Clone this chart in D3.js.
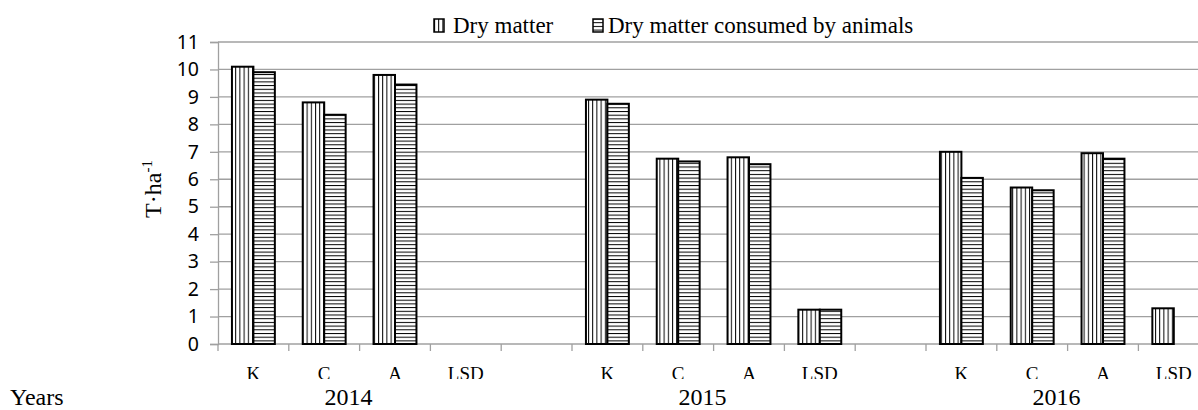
<!DOCTYPE html>
<html>
<head>
<meta charset="utf-8">
<script src="https://cdn.jsdelivr.net/npm/d3@7"></script>
<style>
  body { margin: 0; background: #fff; }
  svg { display: block; }
</style>
</head>
<body>
<div id="chart"></div>
<script>
// data (T ha-1)
const years = ["2014", "2015", "2016"];
const treatments = ["K", "C", "A", "LSD"];
const seriesNames = ["Dry matter", "Dry matter consumed by animals"];
const dryMatter = [
    [10.1, 8.8, 9.8, null],
    [8.9, 6.75, 6.8, 1.25],
    [7.0, 5.7, 6.95, 1.3]
];
const consumed = [
    [9.9, 8.35, 9.45, null],
    [8.75, 6.65, 6.55, 1.25],
    [6.05, 5.6, 6.75, null]
];
const yTicks = d3.range(0, 12);

const W = 1198, H = 410;
const margin = {top: 42, left: 218, bottom: 66};
const step = 70.8;

// slots: 4 treatments per year, one empty slot between years
const slots = [];
years.forEach((yr, i) => {
    treatments.forEach(t => slots.push(yr + "-" + t));
    if (i < years.length - 1) slots.push("gap" + i);
});

const x = d3.scaleBand().domain(slots).range([margin.left, margin.left + slots.length * step]).padding(0);
const xs = d3.scaleBand().domain(seriesNames).range([0, x.bandwidth()]).paddingInner(0).paddingOuter(0.65);
const y = d3.scaleLinear().domain([0, 11]).range([H - margin.bottom, margin.top]);

const rows = [];
years.forEach((yr, i) => {
    treatments.forEach((t, j) => {
        [dryMatter[i][j], consumed[i][j]].forEach((v, k) => {
            if (v != null) rows.push({slot: yr + "-" + t, series: seriesNames[k], value: v, k: k});
        });
    });
});

const svg = d3.select("#chart").append("svg").attr("width", W).attr("height", H);

const defs = svg.append("defs");
defs.append("pattern").attr("id", "pv").attr("patternUnits", "userSpaceOnUse")
    .attr("width", 4.2).attr("height", 4)
    .call(p => p.append("rect").attr("width", 4.2).attr("height", 4).attr("fill", "#fff"))
    .call(p => p.append("line").attr("x1", 0.5).attr("x2", 0.5).attr("y1", 0).attr("y2", 4)
        .attr("stroke", "#000").attr("stroke-width", 1));
defs.append("pattern").attr("id", "ph").attr("patternUnits", "userSpaceOnUse")
    .attr("width", 4).attr("height", 3.7)
    .call(p => p.append("rect").attr("width", 4).attr("height", 3.7).attr("fill", "#fff"))
    .call(p => p.append("line").attr("x1", 0).attr("x2", 4).attr("y1", 0.5).attr("y2", 0.5)
        .attr("stroke", "#000").attr("stroke-width", 1));
const fills = ["url(#pv)", "url(#ph)"];

defs.append("clipPath").attr("id", "catClip")
    .append("rect").attr("x", 0).attr("y", 0).attr("width", W).attr("height", 379);

// gridlines
svg.append("g")
    .selectAll("line")
    .data(yTicks.slice(1))
    .join("line")
    .attr("x1", margin.left).attr("x2", x.range()[1])
    .attr("y1", d => y(d)).attr("y2", d => y(d))
    .attr("stroke", "#a0a0a0").attr("stroke-width", 1.3);

// y axis
const yAxis = svg.append("g")
    .attr("transform", `translate(${margin.left},0)`)
    .call(d3.axisLeft(y).tickValues(yTicks).tickSize(8).tickPadding(11).tickFormat(d3.format("d")));
yAxis.select(".domain").attr("stroke", "#a0a0a0").attr("stroke-width", 1.3);
yAxis.selectAll(".tick line").attr("stroke", "#a0a0a0").attr("stroke-width", 1.3);
yAxis.selectAll(".tick text")
    .attr("font-family", "'Noto Sans', 'Liberation Sans', sans-serif")
    .attr("font-size", 19.5).attr("fill", "#000");

// x axis line and boundary ticks
svg.append("line")
    .attr("x1", margin.left).attr("x2", x.range()[1])
    .attr("y1", y(0)).attr("y2", y(0))
    .attr("stroke", "#a0a0a0").attr("stroke-width", 1.3);
svg.append("g")
    .selectAll("line")
    .data(slots.concat(["end"]))
    .join("line")
    .attr("x1", d => d === "end" ? x.range()[1] : x(d))
    .attr("x2", d => d === "end" ? x.range()[1] : x(d))
    .attr("y1", y(0)).attr("y2", y(0) + 7)
    .attr("stroke", "#a0a0a0").attr("stroke-width", 1.3);

// bars
svg.append("g")
    .selectAll("rect")
    .data(rows)
    .join("rect")
    .attr("x", d => x(d.slot) + xs(d.series))
    .attr("y", d => y(d.value))
    .attr("width", xs.bandwidth())
    .attr("height", d => y(0) - y(d.value))
    .attr("fill", d => fills[d.k])
    .attr("stroke", "#000").attr("stroke-width", 2);

// category labels (clipped at bottom like the original)
svg.append("g").attr("clip-path", "url(#catClip)")
    .selectAll("text")
    .data(slots.filter(s => !s.startsWith("gap")))
    .join("text")
    .attr("x", d => x(d) + x.bandwidth() / 2)
    .attr("y", 380)
    .attr("text-anchor", "middle")
    .attr("font-family", "'Liberation Serif', serif")
    .attr("font-size", 19)
    .text(d => d.split("-")[1]);

// year row
svg.append("text")
    .attr("x", 10).attr("y", 405)
    .attr("font-family", "'Liberation Serif', serif").attr("font-size", 24)
    .text("Years");
svg.append("g")
    .selectAll("text")
    .data(years)
    .join("text")
    .attr("x", d => (x(d + "-K") + x(d + "-LSD") + x.bandwidth()) / 2 - 11)
    .attr("y", 405)
    .attr("text-anchor", "middle")
    .attr("font-family", "'Liberation Serif', serif").attr("font-size", 24)
    .text(d => d);

// y axis title
const yt = svg.append("text")
    .attr("transform", `translate(161,189) rotate(-90)`)
    .attr("text-anchor", "middle")
    .attr("font-family", "'Liberation Serif', serif").attr("font-size", 24);
yt.append("tspan").text("T·ha");
yt.append("tspan").attr("dy", -9).attr("font-size", 15).text("-1");

// legend
const legendX = [434, 593];
const legend = svg.append("g")
    .selectAll("g")
    .data(seriesNames)
    .join("g")
    .attr("transform", (d, i) => `translate(${legendX[i]},0)`);
legend.append("rect")
    .attr("x", 0).attr("y", 19).attr("width", 10).attr("height", 13)
    .attr("fill", (d, i) => fills[i])
    .attr("stroke", "#000").attr("stroke-width", 1.5);
legend.append("text")
    .attr("x", (d, i) => i === 0 ? 19 : 15)
    .attr("y", 33)
    .attr("font-family", "'Liberation Serif', serif").attr("font-size", 23)
    .text(d => d);
</script>
</body>
</html>
